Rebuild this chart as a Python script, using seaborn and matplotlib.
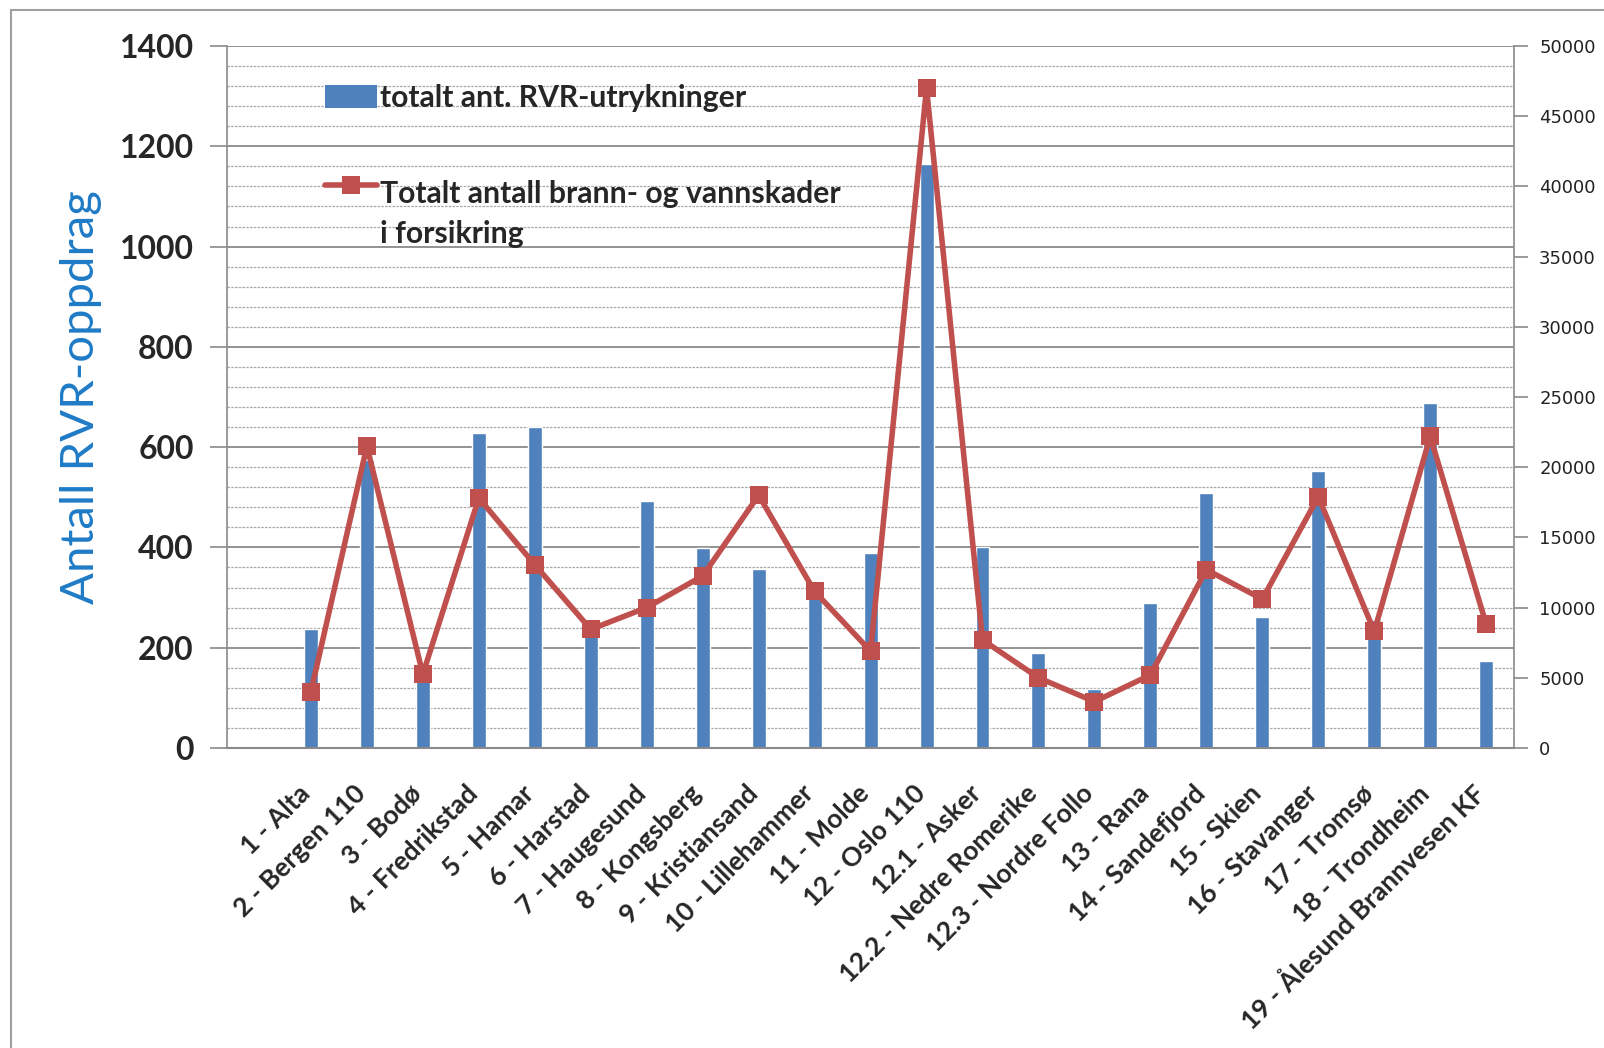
import numpy as np
import pandas as pd
import matplotlib
matplotlib.use("Agg")
import matplotlib.pyplot as plt
import matplotlib.transforms as mtransforms
import seaborn as sns
from matplotlib.patches import Patch, Rectangle
from matplotlib.lines import Line2D
from matplotlib.ticker import MultipleLocator

# --- data ---
stations = [
    "1 - Alta", "2 - Bergen 110", "3 - Bodø", "4 - Fredrikstad", "5 - Hamar",
    "6 - Harstad", "7 - Haugesund", "8 - Kongsberg", "9 - Kristiansand",
    "10 - Lillehammer", "11 - Molde", "12 - Oslo 110", "12.1 - Asker",
    "12.2 - Nedre Romerike", "12.3 - Nordre Follo", "13 - Rana",
    "14 - Sandefjord", "15 - Skien", "16 - Stavanger", "17 - Tromsø",
    "18 - Trondheim", "19 - Ålesund Brannvesen KF",
]
rvr_oppdrag = [238, 575, 150, 628, 641, 255, 492, 398, 357, 300, 388, 1165,
               400, 190, 118, 290, 508, 261, 553, 255, 688, 173]
skader = [4000, 21500, 5250, 17800, 13050, 8450, 10000, 12250, 18000, 11150,
          6900, 47000, 7700, 5000, 3300, 5200, 12700, 10600, 17900, 8300,
          22200, 8800]

left_ticks = list(range(0, 1401, 200))
right_ticks = list(range(0, 50001, 5000))

BAR_COLOR = "#4F81BD"
LINE_COLOR = "#C0504D"
LABEL_BLUE = "#1F7BC6"
GRID_DARK = "#8a8a8a"
GRID_LIGHT = "#a8a8a8"

# Excel category axis has an empty slot in front of the first station
order = [""] + stations
df = pd.DataFrame({"stasjon": stations, "rvr": rvr_oppdrag, "skader": skader})

sns.set_theme(style="white")
plt.rcParams["font.family"] = ["Lato", "DejaVu Sans"]

fig = plt.figure(figsize=(16.04, 10.48), dpi=100)
ax = fig.add_axes([0.1415, 0.2863, 0.8025, 0.6698])
ax2 = ax.twinx()

sns.barplot(data=df, x="stasjon", y="rvr", order=order, color=BAR_COLOR,
            saturation=1, width=0.25, ax=ax, zorder=2)
sns.pointplot(data=df, x="stasjon", y="skader", order=order, color=LINE_COLOR,
              markers="s", linewidth=4, markersize=13, markeredgewidth=0,
              errorbar=None, ax=ax2)

# axes limits / ticks
ax.set_xlim(-0.5, len(order) - 0.5)
ax.set_ylim(0, 1400)
ax2.set_ylim(0, 50000)
ax.set_yticks(left_ticks)
ax.yaxis.set_minor_locator(MultipleLocator(40))
ax2.set_yticks(right_ticks)

ax.set_axisbelow(True)
ax.grid(False)
ax2.grid(False)
ax.grid(which="major", axis="y", color=GRID_DARK, linewidth=1.3)
ax.grid(which="minor", axis="y", color=GRID_LIGHT, linewidth=0.9, linestyle=(0, (2, 1)))

ax.set_xlabel("")
ax2.set_xlabel("")
ax2.set_ylabel("")
ax.set_ylabel("Antall RVR-oppdrag", color=LABEL_BLUE, fontsize=34,
              fontfamily=["Lato", "DejaVu Sans"])
ax.yaxis.set_label_coords(-0.097, 0.5)

ax.tick_params(axis="y", which="major", left=True, length=12, width=1.2,
               color=GRID_DARK, pad=12, labelsize=23)
ax.tick_params(axis="y", which="minor", left=False, length=0)
for t in ax.get_yticklabels():
    t.set_fontweight("bold")

ax2.tick_params(axis="y", right=True, length=10, width=1.2, color=GRID_DARK,
                pad=8, labelsize=13, labelcolor="#222222")
for t in ax2.get_yticklabels():
    t.set_fontfamily("DejaVu Sans")

ax.set_xticks(range(len(order)))
ax.set_xticklabels(order, fontsize=19, fontweight="bold")
ax.tick_params(axis="x", bottom=False, length=0, pad=30)
shift = mtransforms.ScaledTranslation(-5 / 100, 0, fig.dpi_scale_trans)
for t in ax.get_xticklabels():
    t.set_rotation(45)
    t.set_ha("right")
    t.set_va("center")
    t.set_rotation_mode("anchor")
    t.set_transform(t.get_transform() + shift)

for sp in ["top", "right"]:
    ax.spines[sp].set_visible(False)
for sp in ["top", "left", "bottom"]:
    ax2.spines[sp].set_visible(False)
ax.spines["left"].set_color(GRID_DARK)
ax.spines["bottom"].set_color(GRID_DARK)
ax.spines["left"].set_linewidth(1.2)
ax.spines["bottom"].set_linewidth(1.5)
ax2.spines["right"].set_color(GRID_DARK)
ax2.spines["right"].set_linewidth(1.2)

# legend
handles = [
    Patch(facecolor=BAR_COLOR, edgecolor="none"),
    Line2D([], [], color=LINE_COLOR, lw=4, marker="s", markersize=13, markeredgewidth=0),
]
labels = ["totalt ant. RVR-utrykninger", "Totalt antall brann- og vannskader\ni forsikring"]
leg = ax2.legend(handles, labels, loc="upper left", bbox_to_anchor=(0.0765, 0.946),
                 frameon=False, borderpad=0, borderaxespad=0, handlelength=1.7,
                 handleheight=0.8, handletextpad=0.12, labelspacing=2.25,
                 prop={"family": ["Lato", "DejaVu Sans"], "weight": "bold", "size": 21.7})
leg.get_texts()[1].set_linespacing(1.55)
# keep the line handle on the first line of its two-line label
up = mtransforms.ScaledTranslation(0, 30 / 100, fig.dpi_scale_trans)
lh = leg.legend_handles[1]
lh.set_transform(lh.get_transform() + up)

# outer chart border
fig.patches.append(Rectangle((11 / 1604, -0.02), 1.1, 1.02 - 10 / 1048,
                             transform=fig.transFigure, fill=False,
                             edgecolor="#a0a0a0", linewidth=1.5))

fig.savefig("out.png", dpi=100)
